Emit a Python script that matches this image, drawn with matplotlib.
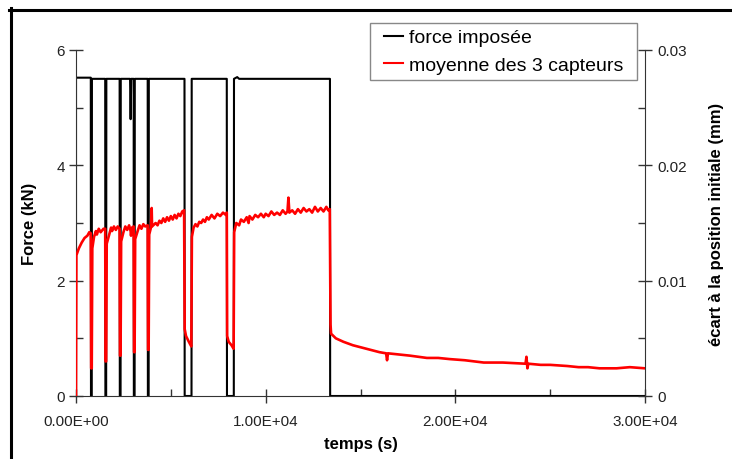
import matplotlib
matplotlib.use('Agg')
import matplotlib.pyplot as plt
from matplotlib.lines import Line2D
from matplotlib.patches import Rectangle
from matplotlib.ticker import FixedLocator, FuncFormatter

plt.rcParams['font.family'] = ['Liberation Sans', 'DejaVu Sans']

# force imposée (kN) vs temps (s)
force_t = [0, 0, 780, 790, 830, 840, 1540, 1550, 1590, 1600, 2300, 2310, 2350, 2360,
           2850, 2880, 2910, 3040, 3050, 3090, 3100, 3780, 3790, 3830, 3840,
           5720, 5730, 6090, 6100, 7950, 7960, 8320, 8330,
           8500, 8600, 13390, 13400, 30000]
force_v = [0, 5.52, 5.52, 0, 0, 5.5, 5.5, 0, 0, 5.5, 5.5, 0, 0, 5.5,
           5.5, 4.8, 5.5, 5.5, 0, 0, 5.5, 5.5, 0, 0, 5.5,
           5.5, 0, 0, 5.5, 5.5, 0, 0, 5.5,
           5.53, 5.5, 5.5, 0, 0]

# moyenne des 3 capteurs (mm) vs temps (s)
capt_t = [0, 20, 150, 300, 450, 600, 700, 780,
          800, 830, 860, 950, 1050, 1100, 1200, 1300, 1450, 1540,
          1560, 1590, 1620, 1750, 1850, 1900, 2000, 2100, 2200, 2300,
          2320, 2350, 2380, 2500, 2600, 2700, 2800, 2880, 2900, 2950, 3040,
          3060, 3090, 3120, 3250, 3350, 3450, 3550, 3650, 3780,
          3800, 3830, 3860, 3950, 3990, 4010, 4200, 4300, 4400, 4500, 4600, 4700, 4800, 4900,
          5000, 5100, 5200, 5300, 5400, 5500, 5600, 5700,
          5730, 5800, 5950, 6080, 6110, 6200, 6300, 6400, 6500, 6600, 6700, 6800, 6900, 7000,
          7150, 7300, 7450, 7600, 7750, 7900, 7950,
          7970, 8050, 8200, 8310, 8340, 8450, 8600, 8700, 8850, 9000, 9100, 9150, 9300, 9450,
          9600, 9750, 9900, 10000, 10150, 10300, 10450, 10600, 10750, 10900, 11050,
          11150, 11200, 11250, 11400, 11550, 11700, 11850, 12000, 12150, 12300, 12450,
          12600, 12750, 12900, 13050, 13200, 13300, 13380,
          13400, 13420, 13450, 13700, 14100, 14600, 15300, 16000, 16350, 16400, 16450,
          17000, 17600, 18500, 19100, 19700, 20500, 21500, 22500, 23700, 23750, 23800, 23850,
          24500, 25000, 25900, 26500, 27000, 27600, 28500, 29200, 30000]
capt_v = [0, 0.0122, 0.0128, 0.0133, 0.0137, 0.0139, 0.0142, 0.0141,
          0.0024, 0.0024, 0.0128, 0.0138, 0.0143, 0.0140, 0.0145, 0.0142, 0.0145, 0.0145,
          0.0030, 0.0030, 0.0132, 0.0140, 0.0146, 0.0143, 0.0147, 0.0144, 0.0147, 0.0145,
          0.0035, 0.0035, 0.0134, 0.0142, 0.0147, 0.0144, 0.0148, 0.0143, 0.0139, 0.0146, 0.0147,
          0.0038, 0.0038, 0.0136, 0.0143, 0.0148, 0.0145, 0.0149, 0.0147, 0.0148,
          0.0040, 0.0040, 0.0140, 0.0146, 0.0163, 0.0147, 0.0150, 0.0148, 0.0152, 0.0150, 0.0154,
          0.0151, 0.0155, 0.0152, 0.0156, 0.0153, 0.0157, 0.0154, 0.0158, 0.0156, 0.0160, 0.0161,
          0.0058, 0.0052, 0.0047, 0.0043, 0.0138, 0.0146, 0.0149, 0.0147, 0.0151, 0.0150, 0.0153,
          0.0151, 0.0155, 0.0153, 0.0157, 0.0154, 0.0158, 0.0156, 0.0159, 0.0157, 0.0159,
          0.0052, 0.0047, 0.0044, 0.0041, 0.0142, 0.0150, 0.0148, 0.0153, 0.0151, 0.0155, 0.0150,
          0.0156, 0.0153, 0.0157, 0.0155, 0.0158, 0.0155, 0.0158, 0.0156, 0.0160, 0.0157, 0.0159,
          0.0157, 0.0161, 0.0158, 0.0160, 0.0172, 0.0159, 0.0161, 0.0158, 0.0162, 0.0159, 0.0163,
          0.0160, 0.0162, 0.0159, 0.0164, 0.0160, 0.0163, 0.0160, 0.0164, 0.0161, 0.0162,
          0.0105, 0.0062, 0.0054, 0.0050, 0.0047, 0.0044, 0.0041, 0.0038, 0.0037, 0.0031, 0.0037,
          0.0036, 0.0035, 0.0033, 0.0033, 0.0032, 0.0031, 0.0029, 0.0029, 0.0028, 0.0034, 0.0024, 0.0028,
          0.0027, 0.0027, 0.0026, 0.0025, 0.0025, 0.0024, 0.0024, 0.0025, 0.0024]

x_ticks = [0, 10000, 20000, 30000]
y_ticks = [0, 2, 4, 6]
y2_ticks = [0, 0.01, 0.02, 0.03]

W, H = 732, 460
fig = plt.figure(figsize=(W / 100, H / 100), dpi=100)
ax = fig.add_axes([76 / W, 1 - 397 / H, (645 - 76) / W, (397 - 51) / H])
ax2 = ax.twinx()

l1, = ax.plot(force_t, force_v, color='black', lw=1.5, label='force imposée')
l2, = ax2.plot(capt_t, capt_v, color='#ff0000', lw=1.9, label='moyenne des 3 capteurs')

ax.set_xlim(0, 30000)
ax.set_ylim(0, 6)
ax2.set_ylim(0, 0.03)

spine_col = '#333333'
for a in (ax, ax2):
    a.spines['top'].set_visible(False)
    a.set_facecolor('none')
ax.spines['right'].set_visible(False)
ax2.spines['left'].set_visible(False)
ax2.spines['bottom'].set_visible(False)
for s in ('left', 'bottom'):
    ax.spines[s].set_color(spine_col)
ax2.spines['right'].set_color(spine_col)

ax.set_xticks(x_ticks)
ax.xaxis.set_major_formatter(FuncFormatter(lambda v, p: f'{v:.2E}'))
ax.xaxis.set_minor_locator(FixedLocator([5000, 15000, 25000]))
ax.set_yticks(y_ticks)
ax.set_yticklabels([str(v) for v in y_ticks])
ax.yaxis.set_minor_locator(FixedLocator([1, 3, 5]))
ax2.set_yticks(y2_ticks)
ax2.set_yticklabels(['0', '0.01', '0.02', '0.03'])
ax2.yaxis.set_minor_locator(FixedLocator([0.005, 0.015, 0.025]))

ax.tick_params(which='major', direction='inout', length=10, width=1, color=spine_col,
               labelsize=11, labelcolor='#222222', pad=3)
ax.tick_params(which='minor', direction='in', length=5, width=1, color=spine_col)
ax.tick_params(axis='x', which='major', pad=8)
ax2.tick_params(which='major', direction='inout', length=10, width=1, color=spine_col,
                labelsize=11, labelcolor='#222222', pad=4)
ax2.tick_params(which='minor', direction='in', length=5, width=1, color=spine_col)

ax.set_xlabel('temps (s)', fontsize=12, fontweight='bold', labelpad=6)
ax.set_ylabel('Force (kN)', fontsize=12, fontweight='bold', labelpad=14)
ax2.set_ylabel('écart à la position initiale (mm)', fontsize=12, fontweight='bold', labelpad=16)

leg = ax2.legend(handles=[l1, l2], loc='upper right', bbox_to_anchor=(0.972, 1.078),
                 fontsize=14, frameon=False, handlelength=1.0,
                 handletextpad=0.3, labelspacing=0.5, borderpad=0.3, borderaxespad=0)
for h in leg.get_lines():
    h.set_linewidth(1.5)

# legend frame, wider than the text block as in the reference
fig.canvas.draw()
bb = leg.get_window_extent()
fig.add_artist(Rectangle((bb.x0 - 8, bb.y0), bb.width + 16, bb.height,
                         transform=None, fill=False, edgecolor='#888888', lw=1, zorder=5))

# page frame (left and top edges)
fig.add_artist(Line2D([10.5 / W, 10.5 / W], [0, 1 - 9 / H], transform=fig.transFigure,
                      color='black', lw=2.2))
fig.add_artist(Line2D([9 / W, 1], [1 - 10.5 / H, 1 - 10.5 / H], transform=fig.transFigure,
                      color='black', lw=2.2))

fig.savefig('out.png', dpi=100)
